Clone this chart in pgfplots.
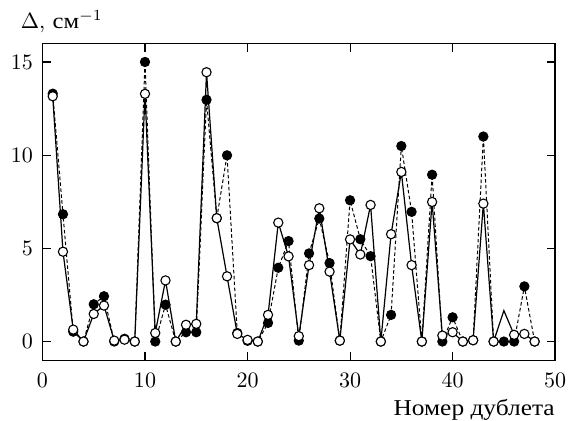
\documentclass[border=0pt]{standalone}
\usepackage{pgfplots}
\pgfplotsset{compat=1.18}
\usepackage{fontspec}
\newfontfamily\cyr[FakeStretch=1.12]{Liberation Serif}
\begin{document}
\begin{tikzpicture}
\begin{axis}[
  scale only axis,
  width=233pt, height=144pt,
  xmin=0, xmax=50, ymin=-1, ymax=16,
  xtick={0,10,20,30,40,50},
  ytick={0,5,10,15},
  tick align=inside,
  major tick length=3.8pt,
  minor tick num=0,
  axis line style={line width=0.6pt},
  every tick/.style={line width=0.5pt, black},
  xticklabel style={yshift=-2.5pt},
  yticklabel style={xshift=-0.8pt},
  clip=false,
]
% filled (dashed)
\addplot[black, line width=0.45pt, dash pattern=on 1.6pt off 1.1pt, mark=*, mark size=2.1pt, mark options={solid, fill=black}] coordinates {
(1,13.3) (2,6.83) (3,0.53) (4,0) (5,2.0) (6,2.43) (7,0) (8,0.15) (9,0) (10,15.0)
(11,0) (12,1.98) (13,0) (14,0.5) (15,0.5) (16,12.97) (17,6.62) (18,9.99) (19,0.46) (20,0.04)
(21,0) (22,1.0) (23,3.96) (24,5.39) (25,0.05) (26,4.73) (27,6.6) (28,4.21) (29,0.05) (30,7.58)
(31,5.49) (32,4.58) (33,0) (34,1.43) (35,10.49) (36,6.96) (37,0) (38,8.95) (39,0) (40,1.3)
(41,0) (42,0.07) (43,11.0) (44,0) (45,0) (46,0) (47,2.96) (48,0)
};
% open (solid line)
\addplot[black, line width=0.55pt, solid, no marks] coordinates {
(1,13.16) (2,4.82) (3,0.64) (4,0) (5,1.48) (6,1.93) (7,0.05) (8,0.1) (9,0) (10,13.29)
(11,0.46) (12,3.28) (13,0) (14,0.9) (15,0.95) (16,14.45) (17,6.62) (18,3.5) (19,0.41) (20,0.09)
(21,0) (22,1.43) (23,6.38) (24,4.57) (25,0.29) (26,4.1) (27,7.15) (28,3.75) (29,0.05) (30,5.48)
(31,4.67) (32,7.33) (33,0) (34,5.76) (35,9.1) (36,4.1) (37,0) (38,7.49) (39,0.32) (40,0.5)
(41,0) (42,0.07) (43,7.4) (44,0) (45,1.66) (46,0.36) (47,0.41) (48,0)
};
\addplot[only marks, mark=*, mark size=2.1pt, mark options={draw=black, fill=white, line width=0.5pt}] coordinates {
(1,13.16) (2,4.82) (3,0.64) (4,0) (5,1.48) (6,1.93) (7,0.05) (8,0.1) (9,0) (10,13.29)
(11,0.46) (12,3.28) (13,0) (14,0.9) (15,0.95) (16,14.45) (17,6.62) (18,3.5) (19,0.41) (20,0.09)
(21,0) (22,1.43) (23,6.38) (24,4.57) (25,0.29) (26,4.1) (27,7.15) (28,3.75) (29,0.05) (30,5.48)
(31,4.67) (32,7.33) (33,0) (34,5.76) (35,9.1) (36,4.1) (37,0) (38,7.49) (39,0.32) (40,0.5)
(41,0) (42,0.07) (43,7.4) (44,0) (46,0.36) (47,0.41) (48,0)
};
\coordinate (bl) at (rel axis cs:0,0);
\coordinate (tr) at (rel axis cs:1,1);
\coordinate (tl) at (rel axis cs:0,1);
\coordinate (br) at (rel axis cs:1,0);
\end{axis}
\node[anchor=base west, inner sep=0pt] at ([shift={(-10pt,6.8pt)}]tl) {$\Delta$, {\cyr см}$^{-1}$};
\node[anchor=base east, inner sep=0pt] at ([shift={(0pt,-25.3pt)}]br) {\fontsize{10.3}{12}\selectfont\cyr Номер дублета};
\pgfresetboundingbox
\path ([shift={(-19.3pt,-27.3pt)}]bl) rectangle ([shift={(6.3pt,19.7pt)}]tr);
\end{tikzpicture}
\end{document}
